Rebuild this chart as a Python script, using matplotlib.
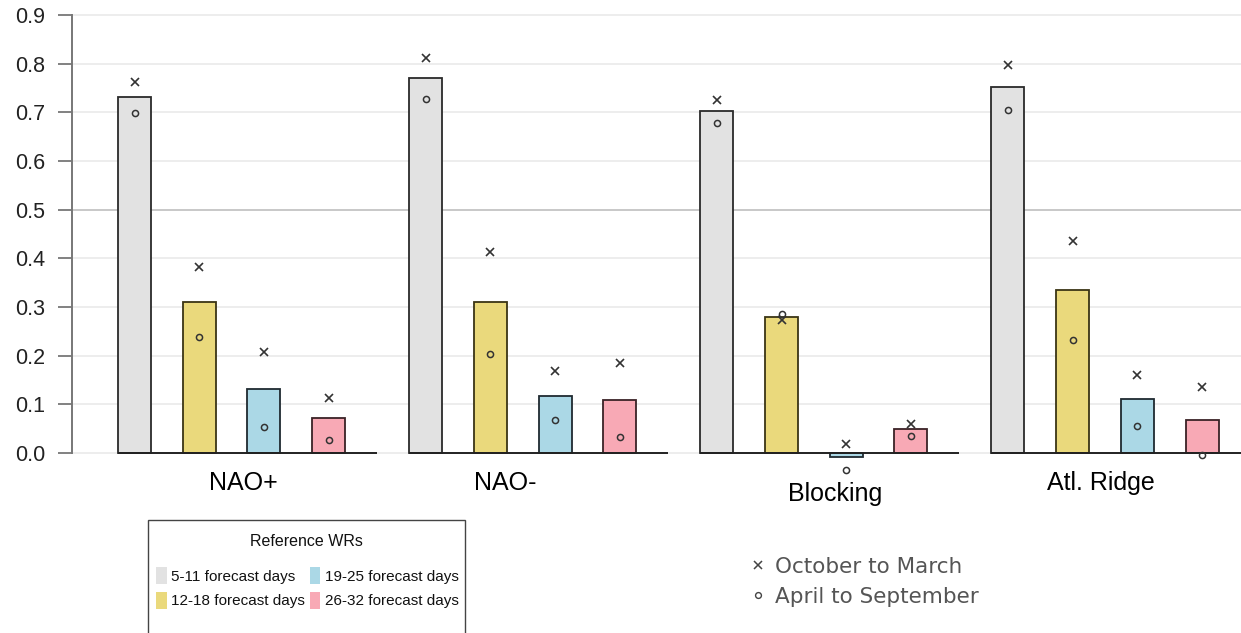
import matplotlib.pyplot as plt
from matplotlib.patches import Patch, Rectangle
from matplotlib.lines import Line2D

# weather regimes and lead-time windows
regimes = ['NAO+', 'NAO-', 'Blocking', 'Atl. Ridge']
leads = ['5-11 forecast days', '12-18 forecast days',
         '19-25 forecast days', '26-32 forecast days']

# all-year score, one list per lead window (NAO+, NAO-, Blocking, Atl. Ridge)
score_all = [
    [0.731, 0.771, 0.702, 0.752],
    [0.311, 0.311, 0.279, 0.335],
    [0.131, 0.118, -0.009, 0.110],
    [0.073, 0.109, 0.049, 0.068],
]
# October to March
score_winter = [
    [0.762, 0.812, 0.726, 0.797],
    [0.383, 0.414, 0.273, 0.436],
    [0.208, 0.169, 0.018, 0.160],
    [0.114, 0.184, 0.060, 0.135],
]
# April to September
score_summer = [
    [0.699, 0.727, 0.678, 0.704],
    [0.239, 0.204, 0.285, 0.232],
    [0.054, 0.068, -0.035, 0.056],
    [0.027, 0.033, 0.036, -0.004],
]

colors = ['#e2e2e2', '#ead97c', '#abd8e6', '#f8a9b5']
edges = ['#2a2a2a', '#3a3515', '#1f2a30', '#3a2226']

plt.rcParams['font.family'] = ['Liberation Sans', 'DejaVu Sans']

W, H = 1241, 633
fig = plt.figure(figsize=(W / 100, H / 100), dpi=100)
ax = fig.add_axes([72 / W, 133 / H, 1 - 72 / W, 500 / H])

group_gap = 4.5
width = 0.51
for g in range(len(regimes)):
    x0 = g * group_gap
    for i in range(len(leads)):
        xl = x0 + i
        ax.bar(xl, score_all[i][g], width=width, align='edge',
               color=colors[i], edgecolor=edges[i], linewidth=1.3, zorder=2)
        ax.plot(xl + width / 2, score_winter[i][g], marker='x', ms=6,
                mew=1.2, color='#333333', ls='none', zorder=4)
        ax.plot(xl + width / 2, score_summer[i][g], marker='o', ms=4.4,
                mew=1.1, mfc='none', mec='#333333', ls='none', zorder=4)
    ax.hlines(0, x0, x0 + 4, color='#222222', lw=1.4, zorder=3)

# regime names under each group
label_dx = [0.18, -0.27, 0.33, -0.07]
label_y = [-0.062, -0.062, -0.084, -0.062]
for g, name in enumerate(regimes):
    ax.text(g * group_gap + 1.755 + label_dx[g], label_y[g], name,
            ha='center', va='center', fontsize=18, color='black',
            clip_on=False)

ax.set_xlim(-0.711, 17.357)
ax.set_ylim(-0.0965, 0.9308)
ax.set_yticks([i / 10 for i in range(10)])
ax.set_yticklabels([f'{i / 10:.1f}' for i in range(10)])
ax.tick_params(axis='y', length=10, width=1.3, color='#777777', pad=9,
               labelsize=15.5, labelcolor='#222222')
ax.set_xticks([])
for s in ['top', 'right', 'bottom']:
    ax.spines[s].set_visible(False)
ax.spines['left'].set_bounds(0, 0.9)
ax.spines['left'].set_color('#777777')
ax.spines['left'].set_linewidth(1.4)

ax.set_axisbelow(True)
ax.yaxis.grid(True, color='#ececec', lw=1.3)
ax.yaxis.get_gridlines()[5].set_color('#c4c4c4')

# colour legend for the lead windows: frame, title, entries
fig.patches.append(Rectangle((148 / W, -0.05), (465 - 148) / W,
                             0.05 + (633 - 520) / H, transform=fig.transFigure,
                             facecolor='white', edgecolor='#444444', lw=1.0,
                             zorder=1))
fig.text(306 / W, 1 - 542 / H, 'Reference WRs', ha='center', va='center',
         fontsize=11.5, color='#111111')
handles = [Patch(facecolor=c, edgecolor='none') for c in colors]
leg = fig.legend(handles, leads, ncol=2, loc='upper left',
                 bbox_to_anchor=(156 / W, 1 - 567 / H), frameon=False,
                 fontsize=11, handlelength=0.7, handleheight=1.35,
                 handletextpad=0.3, columnspacing=0.3, labelspacing=0.5,
                 borderaxespad=0, borderpad=0)
for t in leg.get_texts():
    t.set_color('#111111')

# marker legend for the seasons
season_handles = [
    Line2D([], [], marker='x', ls='none', color='#444444', ms=5.5, mew=1.1),
    Line2D([], [], marker='o', ls='none', mfc='none', mec='#444444',
           ms=4.2, mew=1.0),
]
leg2 = fig.legend(season_handles, ['October to March', 'April to September'],
                  loc='upper left', bbox_to_anchor=(750 / W, 1 - 557 / H),
                  frameon=False, prop={'family': 'DejaVu Sans', 'size': 15.5},
                  handlelength=0.7, handletextpad=0.45, labelspacing=0.45,
                  borderaxespad=0, borderpad=0)
for t in leg2.get_texts():
    t.set_color('#555555')

fig.savefig('out.png', dpi=100)
